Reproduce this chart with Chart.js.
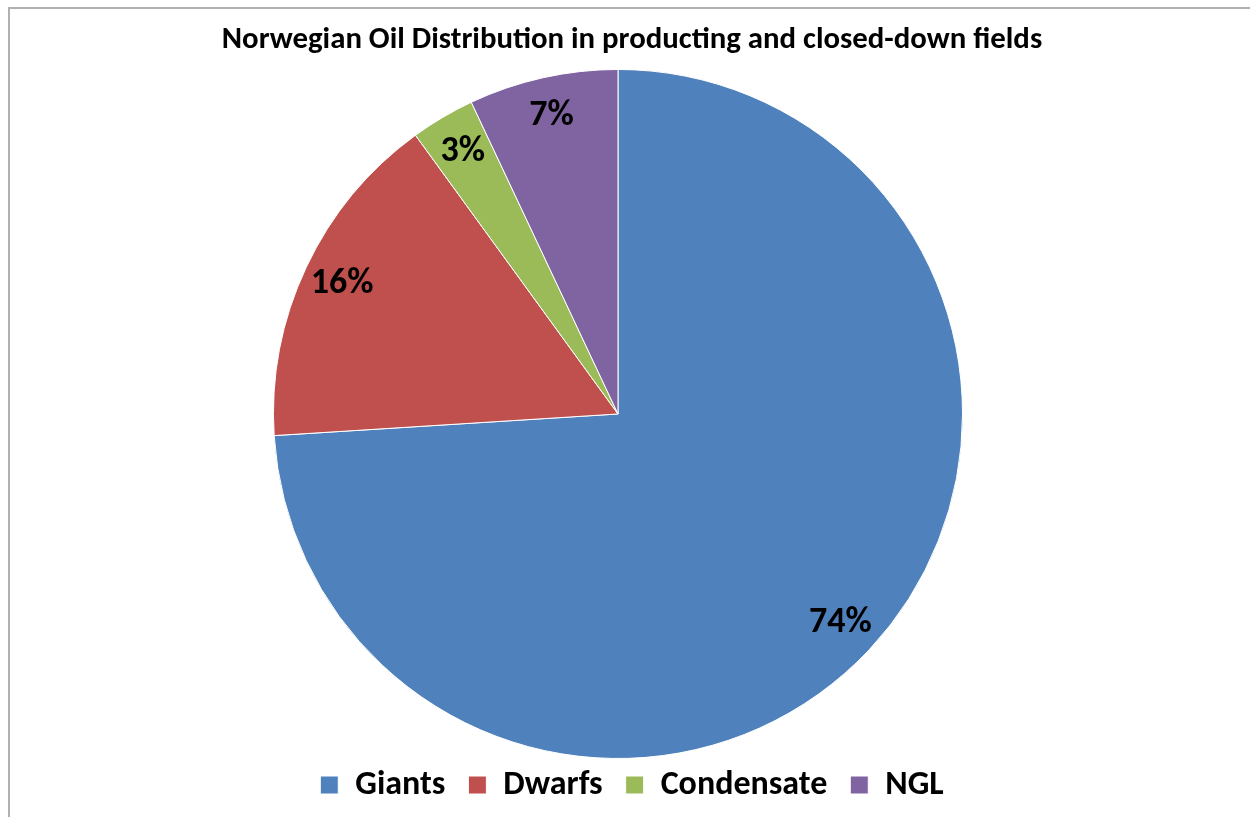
<!DOCTYPE html>
<html>
<head>
<meta charset="utf-8">
<script src="https://cdn.jsdelivr.net/npm/chart.js@4"></script>
<style>
html,body{margin:0;padding:0;background:#fff;overflow:hidden;width:1250px;height:817px;}
#frame{position:absolute;left:8px;top:7px;width:1400px;height:1000px;border-left:2px solid #b0b0b0;border-top:2px solid #b0b0b0;}
#wrap{position:absolute;left:0;top:0;width:1250px;height:817px;}
</style>
</head>
<body>
<div id="frame"></div>
<div id="wrap"><canvas id="c" width="1250" height="817"></canvas></div>
<script>
const titleText = "Norwegian Oil Distribution in producting and closed-down fields";
const categories = ["Giants", "Dwarfs", "Condensate", "NGL"];
const shares = [74, 16, 3, 7];
const colors = ["#4F81BD", "#C0504D", "#9BBB59", "#8064A2"];
const FONT = "Carlito, Calibri, 'Liberation Sans Narrow', 'Open Sans', sans-serif";

const shiftPlugin = {
  id: 'shiftPie',
  afterLayout(chart) {
    const a = chart.chartArea;
    a.left -= 14;
    a.right -= 14;
    a.top -= 1;
    a.bottom += 14;
    a.height = a.bottom - a.top;
    a.width = a.right - a.left;
  }
};

const labelPlugin = {
  id: 'pctLabels',
  afterDatasetsDraw(chart) {
    const ctx = chart.ctx;
    const meta = chart.getDatasetMeta(0);
    const total = shares.reduce((a, b) => a + b, 0);
    ctx.save();
    ctx.font = "bold 36px " + FONT;
    ctx.fillStyle = "#000";
    ctx.textAlign = "center";
    ctx.textBaseline = "middle";
    meta.data.forEach((arc, i) => {
      const p = arc.getProps(['x', 'y', 'startAngle', 'endAngle', 'outerRadius'], true);
      const mid = (p.startAngle + p.endAngle) / 2;
      const r = p.outerRadius * 0.885;
      const x = p.x + Math.cos(mid) * r;
      const y = p.y + Math.sin(mid) * r;
      ctx.fillText(Math.round(shares[i] / total * 100) + "%", x, y);
    });
    ctx.restore();
  }
};

new Chart(document.getElementById('c'), {
  type: 'pie',
  data: {
    labels: categories,
    datasets: [{
      data: shares,
      backgroundColor: colors,
      borderColor: '#ffffff',
      borderWidth: 1
    }]
  },
  options: {
    responsive: false,
    animation: false,
    devicePixelRatio: 1,
    layout: { padding: { left: 14, right: 0, top: 0, bottom: 5 } },
    plugins: {
      title: {
        display: true,
        text: titleText,
        color: '#000',
        font: { family: FONT, size: 30.8, weight: 'bold' },
        padding: { top: 22, bottom: 11 }
      },
      legend: {
        display: true,
        position: 'bottom',
        labels: {
          color: '#000',
          font: { family: FONT, size: 34, weight: 'bold' },
          boxWidth: 18,
          boxHeight: 18,
          padding: 23
        }
      },
      tooltip: { enabled: false }
    }
  },
  plugins: [shiftPlugin, labelPlugin]
});
</script>
</body>
</html>
